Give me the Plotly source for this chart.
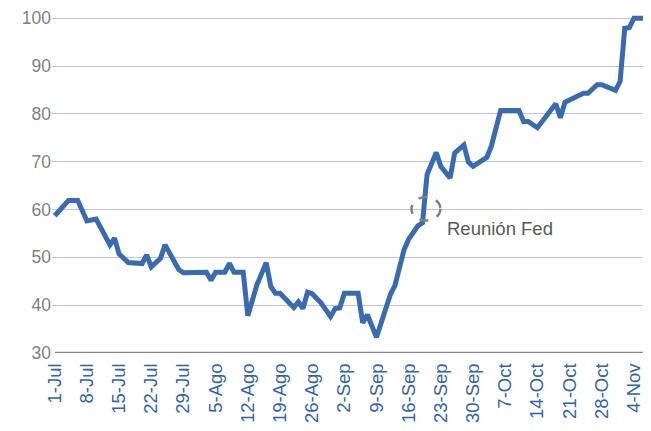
import plotly.graph_objects as go
import pandas as pd

dates = ["2019-07-01", "2019-07-04", "2019-07-06", "2019-07-08", "2019-07-10", "2019-07-13",
         "2019-07-14", "2019-07-15", "2019-07-17", "2019-07-20", "2019-07-21", "2019-07-22",
         "2019-07-24", "2019-07-25", "2019-07-28", "2019-07-29", "2019-08-03", "2019-08-04",
         "2019-08-05", "2019-08-07", "2019-08-08", "2019-08-09", "2019-08-11", "2019-08-12",
         "2019-08-14", "2019-08-16", "2019-08-17", "2019-08-18", "2019-08-19", "2019-08-22",
         "2019-08-23", "2019-08-24", "2019-08-25", "2019-08-26", "2019-08-28", "2019-08-30",
         "2019-08-31", "2019-09-01", "2019-09-02", "2019-09-05", "2019-09-06", "2019-09-07",
         "2019-09-09", "2019-09-12", "2019-09-13", "2019-09-15", "2019-09-16", "2019-09-18",
         "2019-09-19", "2019-09-20", "2019-09-22", "2019-09-23", "2019-09-25", "2019-09-26",
         "2019-09-28", "2019-09-29", "2019-09-30", "2019-10-03", "2019-10-04", "2019-10-06",
         "2019-10-10", "2019-10-11", "2019-10-12", "2019-10-14", "2019-10-18", "2019-10-19",
         "2019-10-20", "2019-10-24", "2019-10-25", "2019-10-27", "2019-10-28", "2019-10-31",
         "2019-11-01", "2019-11-02", "2019-11-03", "2019-11-04", "2019-11-06"]

values = [58.7, 61.9, 61.9, 57.6, 58.0, 52.6,
          54.0, 50.7, 48.9, 48.7, 50.5, 48.0,
          49.8, 52.6, 47.4, 46.8, 46.9, 45.2,
          46.9, 46.9, 48.7, 46.9, 46.9, 37.8,
          44.3, 48.9, 43.9, 42.5, 42.5, 39.5,
          40.7, 39.3, 42.7, 42.4, 40.4, 37.6,
          39.3, 39.4, 42.5, 42.5, 36.3, 38.0,
          33.3, 42.2, 44.1, 51.6, 53.8, 56.6,
          57.2, 67.3, 71.9, 69.0, 66.6, 71.8,
          73.5, 69.9, 69.0, 70.9, 73.3, 80.7,
          80.7, 78.4, 78.4, 77.1, 82.1, 79.2,
          82.4, 84.3, 84.3, 86.1, 86.1, 84.9,
          86.8, 97.9, 98.0, 100.0, 100.0]

tick_dates = ["2019-07-01", "2019-07-08", "2019-07-15", "2019-07-22", "2019-07-29",
              "2019-08-05", "2019-08-12", "2019-08-19", "2019-08-26", "2019-09-02",
              "2019-09-09", "2019-09-16", "2019-09-23", "2019-09-30", "2019-10-07",
              "2019-10-14", "2019-10-21", "2019-10-28", "2019-11-04"]
tick_labels = ["1-Jul", "8-Jul", "15-Jul", "22-Jul", "29-Jul", "5-Ago", "12-Ago", "19-Ago",
               "26-Ago", "2-Sep", "9-Sep", "16-Sep", "23-Sep", "30-Sep", "7-Oct", "14-Oct",
               "21-Oct", "28-Oct", "4-Nov"]
y_ticks = [30, 40, 50, 60, 70, 80, 90, 100]

annotation_text = "Reunión Fed"

base = pd.Timestamp("2019-07-01")
def day(d):
    return base + pd.Timedelta(days=d)

fig = go.Figure()
fig.add_trace(go.Scatter(
    x=dates, y=values, mode="lines",
    line=dict(color="#386BB0", width=5),
    hoverinfo="skip", showlegend=False,
))

fig.add_shape(type="circle", xref="x", yref="y",
              x0=day(77.6), x1=day(83.9), y0=57.7, y1=62.6,
              line=dict(color="#808080", width=2.5, dash="dash"))

fig.add_annotation(x=day(85.3), y=56.0, xref="x", yref="y", text=annotation_text,
                   showarrow=False, xanchor="left", yanchor="middle", xshift=-2,
                   font=dict(family="Liberation Sans, Arial", size=18.5, color="#595959"))

# the page body adds an 8px offset, so the figure is sized/margined to compensate
fig.update_layout(
    width=643, height=423,
    margin=dict(l=44, r=1, t=3, b=77.7, autoexpand=False),
    paper_bgcolor="white", plot_bgcolor="white",
    font=dict(family="Liberation Sans, Arial"),
    xaxis=dict(
        range=[day(-0.6), day(129.5)], automargin=False,
        tickvals=tick_dates, ticktext=tick_labels, tickangle=-90,
        tickfont=dict(size=18.5, color="#2E64A8"),
        showgrid=False, showline=False, zeroline=False,
        ticks="outside", ticklen=2, tickcolor="rgba(0,0,0,0)",
    ),
    yaxis=dict(
        range=[30, 101.5], automargin=False,
        tickvals=y_ticks,
        tickfont=dict(size=17.5, color="#7F7F7F"),
        showgrid=True, gridcolor="#BCC6E4", gridwidth=1.3,
        zeroline=False, showline=False,
        ticks="",
    ),
)

fig.add_shape(type="line", xref="paper", yref="y", x0=0.005, x1=1, y0=30, y1=30,
              line=dict(color="#868686", width=2.5), layer="above")

fig.write_html("out.html")
